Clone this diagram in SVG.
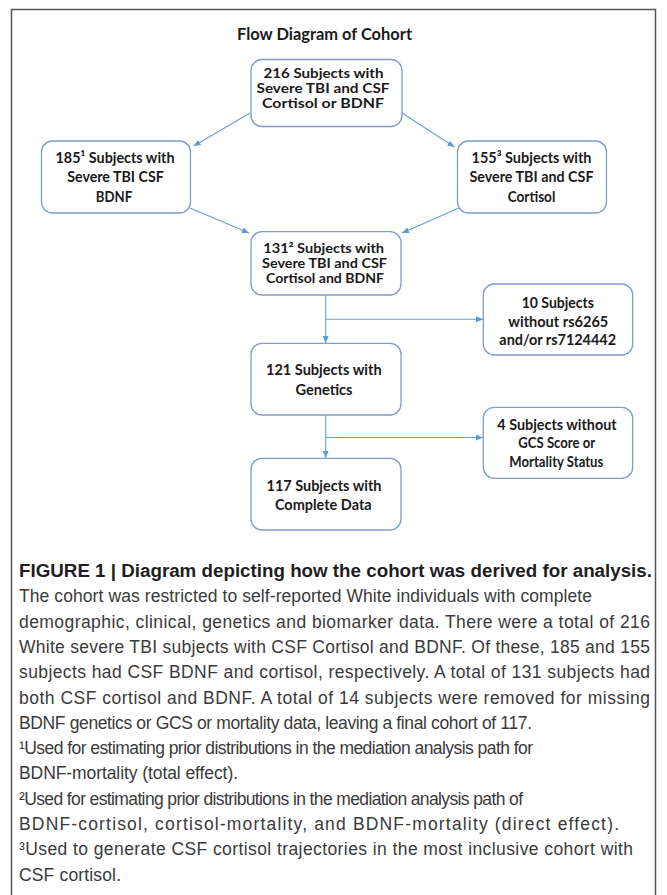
<svg xmlns="http://www.w3.org/2000/svg" width="667" height="895" viewBox="0 0 667 895">
<defs>
<marker id="ah" markerUnits="userSpaceOnUse" markerWidth="8" markerHeight="7" refX="7" refY="3" orient="auto">
<path d="M0,0 L7,3 L0,6 z" fill="#5b9bd5"/>
</marker>
<style>
.box{fill:#ffffff;stroke:#7f9ccb;stroke-width:1.3}
.bt{font-family:Lato,"Liberation Sans",sans-serif;font-weight:700;font-size:14.5px;fill:#1a1a1a;text-anchor:middle}
.bs{font-size:13.5px}
.ttl{font-family:Lato,"Liberation Sans",sans-serif;font-weight:700;font-size:17.5px;fill:#1a1a1a;text-anchor:middle}
.con{fill:none;stroke:#6a9fd6;stroke-width:1.1}
.cap{font-family:"Liberation Sans",Arial,sans-serif;font-size:17.5px;fill:#3a3a3a}
.capb{font-family:"Liberation Sans",Arial,sans-serif;font-size:17.5px;font-weight:700;fill:#1e1e1e}
</style>
</defs>
<rect width="667" height="895" fill="#ffffff"/>
<path d="M11.5,900 V9.5 H655.5 V900" fill="none" stroke="#555555" stroke-width="1.5"/>
<text class="ttl" x="324.5" y="40" textLength="175" lengthAdjust="spacingAndGlyphs">Flow Diagram of Cohort</text>

<g id="connectors">
<path class="con" d="M250,113 L193.6,146" marker-end="url(#ah)"/>
<path class="con" d="M402,113 L454.5,147" marker-end="url(#ah)"/>
<path class="con" d="M190,208 L249,233" marker-end="url(#ah)"/>
<path class="con" d="M459,208 L402,233" marker-end="url(#ah)"/>
<path class="con" d="M325.7,295 V343" marker-end="url(#ah)"/>
<path class="con" d="M325.7,319.3 H483" marker-end="url(#ah)"/>
<path class="con" d="M325.7,415 V458" marker-end="url(#ah)"/>
<path class="con" d="M325.7,437.5 H483" marker-end="url(#ah)"/>
</g>

<g id="n216">
<rect class="box" x="251" y="59.5" width="151" height="67" rx="11"/>
<text class="bt bs" x="323.5" y="77.5" textLength="120" lengthAdjust="spacingAndGlyphs">216 Subjects with</text>
<text class="bt bs" x="323" y="92.5" textLength="133" lengthAdjust="spacingAndGlyphs">Severe TBI and CSF</text>
<text class="bt bs" x="323" y="107.5" textLength="122" lengthAdjust="spacingAndGlyphs">Cortisol or BDNF</text>
</g>

<g id="n185">
<rect class="box" x="41.5" y="141" width="149" height="72" rx="11"/>
<text class="bt" x="115" y="162.7" textLength="119" lengthAdjust="spacingAndGlyphs">185¹ Subjects with</text>
<text class="bt" x="115.5" y="182.2" textLength="96.6" lengthAdjust="spacingAndGlyphs">Severe TBI CSF</text>
<text class="bt" x="114" y="201.7" textLength="36.3" lengthAdjust="spacingAndGlyphs">BDNF</text>
</g>

<g id="n155">
<rect class="box" x="457.5" y="141" width="149" height="72" rx="11"/>
<text class="bt" x="531.5" y="162.7" textLength="120" lengthAdjust="spacingAndGlyphs">155³ Subjects with</text>
<text class="bt" x="531.5" y="182.2" textLength="124" lengthAdjust="spacingAndGlyphs">Severe TBI and CSF</text>
<text class="bt" x="531.5" y="201.7" textLength="47.6" lengthAdjust="spacingAndGlyphs">Cortisol</text>
</g>

<g id="n131">
<rect class="box" x="251" y="231.7" width="150" height="63.3" rx="11"/>
<text class="bt bs" x="323.7" y="253" textLength="120.7" lengthAdjust="spacingAndGlyphs">131² Subjects with</text>
<text class="bt bs" x="324.5" y="268" textLength="125" lengthAdjust="spacingAndGlyphs">Severe TBI and CSF</text>
<text class="bt bs" x="325" y="283" textLength="118" lengthAdjust="spacingAndGlyphs">Cortisol and BDNF</text>
</g>

<g id="n10">
<rect class="box" x="483.3" y="284" width="149.4" height="71" rx="11"/>
<text class="bt" x="557.8" y="308" textLength="72.3" lengthAdjust="spacingAndGlyphs">10 Subjects</text>
<text class="bt" x="558.3" y="327" textLength="100" lengthAdjust="spacingAndGlyphs">without rs6265</text>
<text class="bt" x="557.7" y="345" textLength="116.7" lengthAdjust="spacingAndGlyphs">and/or rs7124442</text>
</g>

<g id="n121">
<rect class="box" x="251" y="343.3" width="150" height="71.7" rx="11"/>
<text class="bt" x="323.8" y="375.4" textLength="115.7" lengthAdjust="spacingAndGlyphs">121 Subjects with</text>
<text class="bt" x="324" y="394.7" textLength="57" lengthAdjust="spacingAndGlyphs">Genetics</text>
</g>

<g id="n4">
<rect class="box" x="483.3" y="407.3" width="149.4" height="71" rx="11"/>
<text class="bt" x="557" y="429.7" textLength="119.3" lengthAdjust="spacingAndGlyphs">4 Subjects without</text>
<text class="bt" x="556.7" y="448.3" textLength="76.7" lengthAdjust="spacingAndGlyphs">GCS Score or</text>
<text class="bt" x="556.3" y="467.4" textLength="94" lengthAdjust="spacingAndGlyphs">Mortality Status</text>
</g>

<g id="n117">
<rect class="box" x="251" y="458.3" width="150" height="71.7" rx="11"/>
<text class="bt" x="324" y="490.7" textLength="115" lengthAdjust="spacingAndGlyphs">117 Subjects with</text>
<text class="bt" x="323.3" y="509.7" textLength="96.7" lengthAdjust="spacingAndGlyphs">Complete Data</text>
</g>

<g id="caption">
<text class="capb" x="19" y="577" textLength="633" lengthAdjust="spacingAndGlyphs">FIGURE 1 | Diagram depicting how the cohort was derived for analysis.</text>
<text class="cap" x="19" y="602.3" textLength="573" lengthAdjust="spacing">The cohort was restricted to self-reported White individuals with complete</text>
<text class="cap" x="19" y="627.6" textLength="631" lengthAdjust="spacing">demographic, clinical, genetics and biomarker data. There were a total of 216</text>
<text class="cap" x="19" y="652.9" textLength="631" lengthAdjust="spacing">White severe TBI subjects with CSF Cortisol and BDNF. Of these, 185 and 155</text>
<text class="cap" x="19" y="678.2" textLength="631" lengthAdjust="spacing">subjects had CSF BDNF and cortisol, respectively. A total of 131 subjects had</text>
<text class="cap" x="19" y="703.5" textLength="631" lengthAdjust="spacing">both CSF cortisol and BDNF. A total of 14 subjects were removed for missing</text>
<text class="cap" x="19" y="728.8" textLength="513" lengthAdjust="spacing">BDNF genetics or GCS or mortality data, leaving a final cohort of 117.</text>
<text class="cap" x="19" y="754.1" textLength="514" lengthAdjust="spacing">¹Used for estimating prior distributions in the mediation analysis path for</text>
<text class="cap" x="19" y="779.4" textLength="219" lengthAdjust="spacing">BDNF-mortality (total effect).</text>
<text class="cap" x="19" y="804.7" textLength="504" lengthAdjust="spacing">²Used for estimating prior distributions in the mediation analysis path of</text>
<text class="cap" x="19" y="830" textLength="600" lengthAdjust="spacing">BDNF-cortisol, cortisol-mortality, and BDNF-mortality (direct effect).</text>
<text class="cap" x="19" y="855.3" textLength="614" lengthAdjust="spacing">³Used to generate CSF cortisol trajectories in the most inclusive cohort with</text>
<text class="cap" x="19" y="880.6" textLength="102" lengthAdjust="spacing">CSF cortisol.</text>
</g>
</svg>
